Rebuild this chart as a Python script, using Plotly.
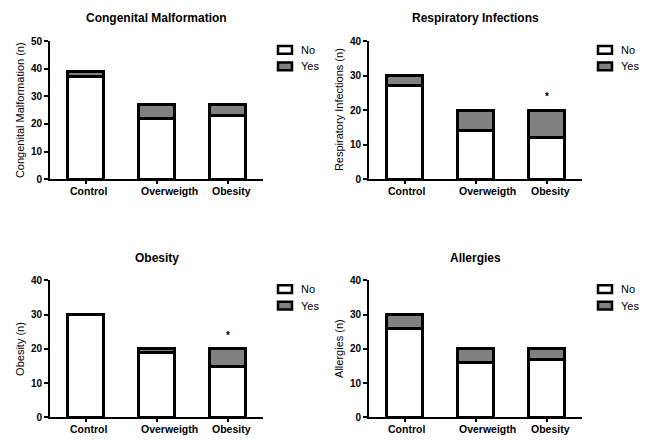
import plotly.graph_objects as go

W, H = 649, 441

categories = ["Control", "Overweigth", "Obesity"]

titles = ["Congenital Malformation", "Respiratory Infections", "Obesity", "Allergies"]
ytitles = ["Congenital Malformation (n)", "Respiratory Infections (n)", "Obesity (n)", "Allergies (n)"]
ymax = [50, 40, 40, 40]
legend_labels = ["No", "Yes"]

no_congenital = [37, 22, 23]
yes_congenital = [2, 5, 4]
no_respiratory = [27, 14, 12]
yes_respiratory = [3, 6, 8]
no_obesity = [30, 19, 15]
yes_obesity = [0, 1, 5]
no_allergies = [26, 16, 17]
yes_allergies = [4, 4, 3]

star_respiratory = 24
star_obesity = 24

panels_no = [no_congenital, no_respiratory, no_obesity, no_allergies]
panels_yes = [yes_congenital, yes_respiratory, yes_obesity, yes_allergies]

# pixel layout of each panel (left, right, top, bottom)
boxes = [(50, 263, 36, 178), (369, 582, 36, 178), (50, 263, 282, 423), (369, 582, 282, 423)]
title_y = [12, 12, 259, 259]
# legend first-box centre (x, y) per panel
leg_pos = [(285, 45), (605, 45), (285, 291), (605, 291)]

FILLS = ["white", "#808080"]
FONT = "Liberation Sans, Arial, sans-serif"


def px(x):
    return x / W


def py(y):
    return (H - y) / H


fig = go.Figure()
layout = dict(
    width=W, height=H, margin=dict(l=0, r=0, t=0, b=0),
    paper_bgcolor="white", plot_bgcolor="white",
    barmode="stack", showlegend=False,
    font=dict(family=FONT, color="black", size=10),
    annotations=[], shapes=[],
)

for i in range(4):
    l, r, t, b = boxes[i]
    sfx = "" if i == 0 else str(i + 1)
    xa, ya = "x" + sfx, "y" + sfx
    for vals, name, fill in [(panels_no[i], "No", FILLS[0]), (panels_yes[i], "Yes", FILLS[1])]:
        fig.add_trace(go.Bar(x=categories, y=vals, name=name, xaxis=xa, yaxis=ya, width=0.5,
                             marker=dict(color=fill, line=dict(color="black", width=3))))
    layout["xaxis" + sfx] = dict(
        domain=[px(l), px(r)], anchor=ya, range=[-0.5, 2.5], showline=True, linecolor="black",
        linewidth=2, ticks="outside", ticklen=3, tickwidth=2, tickcolor="black",
        showticklabels=False, showgrid=False, zeroline=False, fixedrange=True)
    layout["yaxis" + sfx] = dict(
        domain=[py(b), py(t)], anchor=xa, range=[0, ymax[i]], dtick=10,
        showline=True, linecolor="black", linewidth=2, ticks="outside", ticklen=4, tickwidth=2,
        tickcolor="black", tickfont=dict(size=10, weight="bold"), showgrid=False, zeroline=False,
        fixedrange=True)
    # category labels, left-aligned with the bar's left edge (as in the source figure)
    for c in categories:
        layout["annotations"].append(dict(
            text="<b>" + c + "</b>", x=c, y=0, xref=xa, yref=ya, xanchor="left",
            yanchor="middle", xshift=-18, yshift=-12, showarrow=False, font=dict(size=10.5)))
    layout["annotations"].append(dict(
        text="<b>" + titles[i] + "</b>", x=px((l + r) / 2), y=py(title_y[i]),
        xref="paper", yref="paper", showarrow=False, font=dict(size=12), xanchor="center",
        yanchor="middle"))
    layout["annotations"].append(dict(
        text=ytitles[i], x=px(l - 30), y=py((t + b) / 2), xref="paper", yref="paper",
        showarrow=False, textangle=-90, font=dict(size=11), xanchor="center", yanchor="middle"))
    # manual legend
    lx, ly = leg_pos[i]
    for k in range(2):
        cy = ly + 17 * k
        layout["shapes"].append(dict(type="rect", xref="paper", yref="paper",
                                     x0=px(lx - 7), x1=px(lx + 7), y0=py(cy - 4), y1=py(cy + 4),
                                     fillcolor=FILLS[k], line=dict(color="black", width=2.5)))
        layout["annotations"].append(dict(text=legend_labels[k], x=px(lx + 14), y=py(cy),
                                          xref="paper", yref="paper", showarrow=False,
                                          xanchor="left", yanchor="middle", font=dict(size=11)))

layout["annotations"].append(dict(text="<b>*</b>", x=2, y=star_respiratory, xref="x2", yref="y2",
                                  showarrow=False, font=dict(size=10)))
layout["annotations"].append(dict(text="<b>*</b>", x=2, y=star_obesity, xref="x3", yref="y3",
                                  showarrow=False, font=dict(size=10)))

fig.update_layout(**layout)
fig.write_html("out.html", config={"displayModeBar": False},
               post_script="document.body.style.margin='0';document.body.style.overflow='hidden';")
